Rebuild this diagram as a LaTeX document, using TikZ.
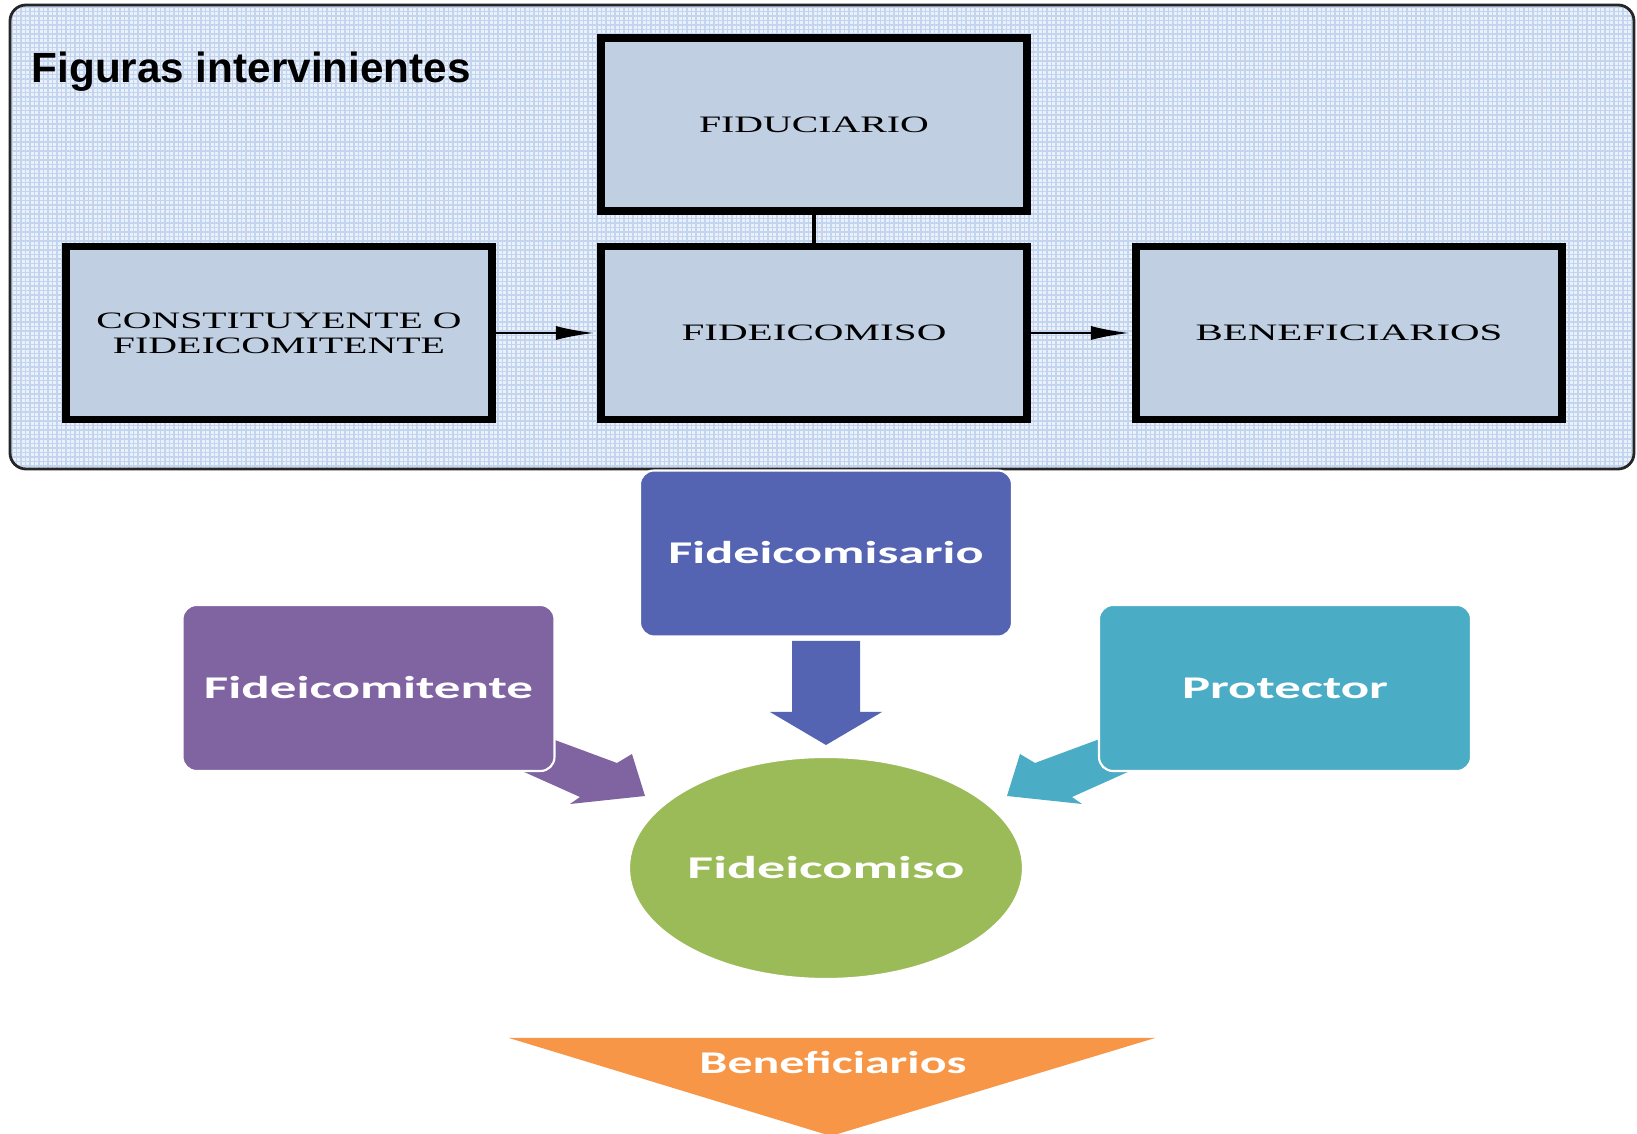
\documentclass[tikz,border=0pt]{standalone}
\usepackage{fontspec}
\usepackage{graphicx}
\usetikzlibrary{arrows.meta,shapes.geometric}
\newfontfamily\boxserif{Liberation Serif}
\newfontfamily\headsans{Liberation Sans}
\newfontfamily\smartsans{Carlito}
\definecolor{panelbg}{HTML}{EBF1FA}
\definecolor{panelgrid}{HTML}{C3D4EE}
\definecolor{boxfill}{HTML}{C1CFE2}
\definecolor{indigo}{HTML}{5463B2}
\definecolor{violet}{HTML}{8064A2}
\definecolor{aqua}{HTML}{4BACC6}
\definecolor{leaf}{HTML}{9BBB59}
\definecolor{amber}{HTML}{F79646}
% stretch one line of text horizontally to a given width, keeping its height
\newcommand{\wideto}[2]{\resizebox{#1}{\height}{#2}}

\begin{document}
\begin{tikzpicture}[x=0.1mm,y=-0.1mm,
  rolebox/.style={draw=black, line width=2pt, fill=boxfill,
    minimum width=42.6mm, minimum height=17.3mm, inner sep=0pt,
    align=center, text=black, font=\boxserif\fontsize{6.7}{7.1}\selectfont},
  link/.style={line width=0.6pt, shorten >=1pt, -{Latex[length=3.8mm,width=1.4mm]}},
  smartbox/.style={rounded corners=1.4mm, draw=white, line width=0.6pt,
    minimum width=37.2mm, minimum height=16.6mm, inner sep=0pt, text=white,
    font=\smartsans\bfseries\fontsize{9}{10}\selectfont, text height=5.7pt, text depth=0pt},
  smarttext/.style={inner sep=0pt, text=white,
    font=\smartsans\bfseries\fontsize{9}{10}\selectfont, text height=5.7pt, text depth=0pt},
]
\useasboundingbox (0,0) rectangle (1637,1134);
\fill[white] (0,0) rectangle (1637,1134);

% ---- upper panel: squared paper background ----
\begin{scope}
  \clip[rounded corners=1.6mm] (10,5) rectangle (1634,469);
  \fill[panelbg] (10,5) rectangle (1634,469);
  \foreach \gx in {12,16.5,...,1634} \draw[panelgrid, line width=0.3pt] (\gx,5) -- (\gx,469);
  \foreach \gy in {7,11.5,...,469} \draw[panelgrid, line width=0.3pt] (10,\gy) -- (1634,\gy);
\end{scope}
\draw[line width=0.8pt, draw=black!85, rounded corners=1.6mm] (10,5) rectangle (1634,469);

\node[anchor=base west, inner sep=0pt, font=\headsans\bfseries\fontsize{12}{14}\selectfont]
  (title) at (31,83) {\wideto{43.9mm}{Figuras intervinientes}};

\node[rolebox] (fiduc)   at (814,124.5) {\wideto{23mm}{FIDUCIARIO}};
\node[rolebox] (fideico) at (814,333)   {\wideto{26.5mm}{FIDEICOMISO}};
\node[rolebox] (const)   at (279,333)   {\wideto{36.5mm}{CONSTITUYENTE O}\\\wideto{33.2mm}{FIDEICOMITENTE}};
\node[rolebox] (benef)   at (1349,333)  {\wideto{30.7mm}{BENEFICIARIOS}};

\draw[line width=1.1pt] (fiduc) -- (fideico);
\draw[link] (const) -- (fideico);
\draw[link] (fideico) -- (benef);

% ---- lower diagram: block arrows under the boxes ----
\fill[indigo] (792,641) -- (860,641) -- (860,712) -- (882,712) -- (826,745)
  -- (770,712) -- (792,712) -- cycle;
\fill[violet] (536,733) -- (617,763) -- (632,754) -- (645,796) -- (570,804)
  -- (580,797) -- (513,767) -- cycle;
\fill[aqua] (1116,733) -- (1035,763) -- (1020,754) -- (1007,796) -- (1082,804)
  -- (1072,797) -- (1139,767) -- cycle;

\node[smartbox, fill=indigo] (fcm)  at (826,553.5) {\wideto{31.5mm}{Fideicomisario}};
\node[smartbox, fill=violet] (fct)  at (368.5,688) {\wideto{32.9mm}{Fideicomitente}};
\node[smartbox, fill=aqua]   (prot) at (1285,688)  {\wideto{20.6mm}{Protector}};
\node[smarttext, ellipse, fill=leaf, draw=white, line width=0.6pt,
  minimum width=39.4mm, minimum height=22.2mm] (fso) at (826,868) {\wideto{27.7mm}{Fideicomiso}};

\fill[amber] (509,1038) -- (1155,1038) -- (831,1136) -- cycle;
\node[smarttext] (bnf) at (833,1063) {\wideto{26.7mm}{Beneficiarios}};
\end{tikzpicture}
\end{document}
